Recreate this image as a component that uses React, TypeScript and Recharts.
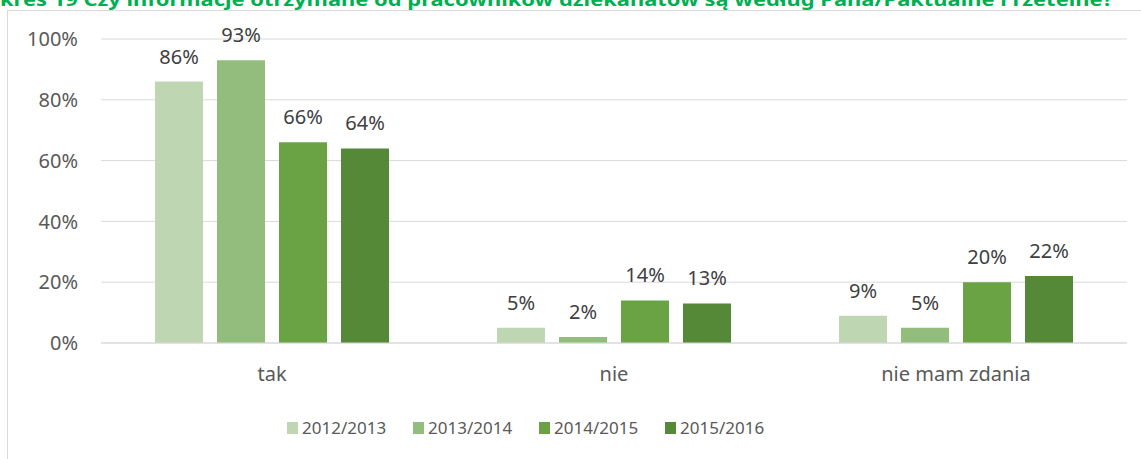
import React from 'react';
import { BarChart, Bar, XAxis, YAxis, CartesianGrid, LabelList } from 'recharts';

// Answers and school years
const categories = ['tak', 'nie', 'nie mam zdania'];
const seriesNames = ['2012/2013', '2013/2014', '2014/2015', '2015/2016'];
const seriesColors = ['#bfd6b3', '#93bd7c', '#6aa344', '#558837'];

// Percentages per school year
const values2012 = [86, 5, 9];
const values2013 = [93, 2, 5];
const values2014 = [66, 14, 20];
const values2015 = [64, 13, 22];

const yTicks = [0, 20, 40, 60, 80, 100];

const title = 'kres 19 Czy informacje otrzymane od pracowników dziekanatów są według Pana/Paktualne i rzetelne?';

const seriesValues = [values2012, values2013, values2014, values2015];

const data = categories.map((name, i) => {
  const row: Record<string, string | number> = { name };
  seriesNames.forEach((s, j) => {
    row[s] = seriesValues[j][i];
  });
  return row;
});

const FONT = '"Noto Sans", "Open Sans", sans-serif';

export default function App() {
  return (
    <div
      style={{
        position: 'fixed',
        left: 0,
        top: 0,
        width: 1141,
        height: 459,
        overflow: 'hidden',
        background: '#fff',
        fontFamily: FONT,
      }}
    >
      <svg width={1141} height={20} style={{ position: 'absolute', left: 0, top: 0 }}>
        <text
          x={0}
          y={6}
          fill="#00b050"
          fontWeight="bold"
          fontSize={18}
          fontFamily={FONT}
          textLength={1113}
          lengthAdjust="spacingAndGlyphs"
        >
          {title}
        </text>
      </svg>
      {/* frame */}
      <div
        style={{
          position: 'absolute',
          left: 7,
          top: 10,
          width: 1150,
          height: 460,
          borderLeft: '1px solid #d9d9d9',
          borderTop: '1px solid #d9d9d9',
        }}
      />
      <div style={{ position: 'absolute', left: 0, top: 0 }}>
        <BarChart
          width={1141}
          height={459}
          data={data}
          margin={{ top: 39, right: 14, left: 0, bottom: 76 }}
          barSize={48}
          barGap={14}
        >
          <CartesianGrid vertical={false} stroke="#d9d9d9" strokeWidth={1} />
          <XAxis
            dataKey="name"
            height={40}
            tickLine={false}
            tickSize={0}
            tickMargin={24}
            axisLine={{ stroke: '#d9d9d9' }}
            tick={{ fill: '#595959', fontSize: 20, fontFamily: FONT }}
          />
          <YAxis
            width={101}
            domain={[0, 100]}
            ticks={yTicks}
            tickFormatter={(v: number) => `${v}%`}
            axisLine={false}
            tickLine={false}
            tickSize={0}
            tickMargin={23}
            tick={{ fill: '#595959', fontSize: 20, fontFamily: FONT }}
          />
          {seriesNames.map((s, j) => (
            <Bar key={s} dataKey={s} fill={seriesColors[j]} isAnimationActive={false}>
              <LabelList
                dataKey={s}
                position="top"
                offset={18}
                formatter={(v: number) => `${v}%`}
                fill="#404040"
                fontSize={20}
                fontFamily={FONT}
              />
            </Bar>
          ))}
        </BarChart>
      </div>
      {/* legend */}
      <div
        style={{
          position: 'absolute',
          left: 287,
          top: 416,
          display: 'flex',
          alignItems: 'center',
          fontSize: 17,
          color: '#595959',
          lineHeight: '24px',
        }}
      >
        {seriesNames.map((s, j) => (
          <div key={s} style={{ display: 'flex', alignItems: 'center', width: 126 }}>
            <span
              style={{
                display: 'inline-block',
                width: 11,
                height: 12,
                background: seriesColors[j],
                marginRight: 4,
              }}
            />
            <span>{s}</span>
          </div>
        ))}
      </div>
    </div>
  );
}
